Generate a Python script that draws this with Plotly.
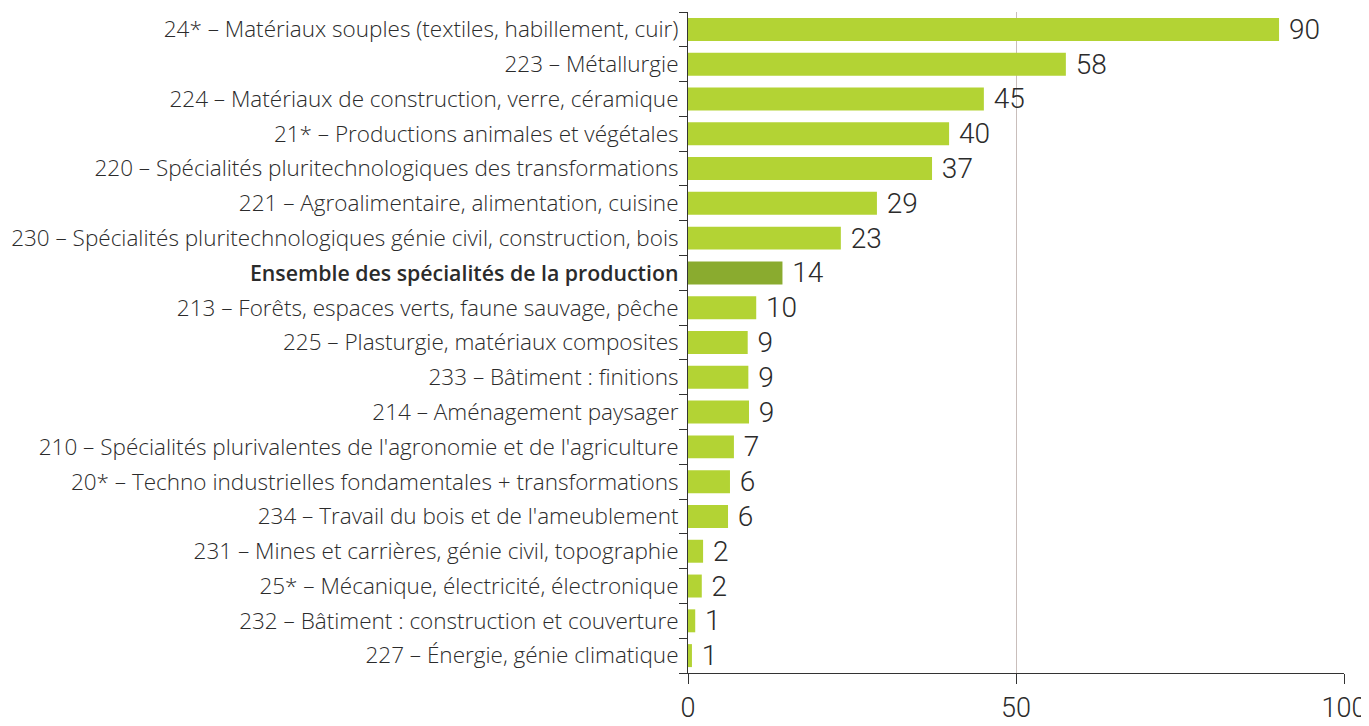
import plotly.graph_objects as go

# Spécialités de la production (ordre d'affichage, du haut vers le bas)
categories = [
    "24* – Matériaux souples (textiles, habillement, cuir)",
    "223 – Métallurgie",
    "224 – Matériaux de construction, verre, céramique",
    "21* – Productions animales et végétales",
    "220 – Spécialités pluritechnologiques des transformations",
    "221 – Agroalimentaire, alimentation, cuisine",
    "230 – Spécialités pluritechnologiques génie civil, construction, bois",
    "Ensemble des spécialités de la production",
    "213 – Forêts, espaces verts, faune sauvage, pêche",
    "225 – Plasturgie, matériaux composites",
    "233 – Bâtiment : finitions",
    "214 – Aménagement paysager",
    "210 – Spécialités plurivalentes de l'agronomie et de l'agriculture",
    "20* – Techno industrielles fondamentales + transformations",
    "234 – Travail du bois et de l'ameublement",
    "231 – Mines et carrières, génie civil, topographie",
    "25* – Mécanique, électricité, électronique",
    "232 – Bâtiment : construction et couverture",
    "227 – Énergie, génie climatique",
]
values = [90.1, 57.6, 45.1, 39.8, 37.2, 28.8, 23.3, 14.4, 10.4, 9.1, 9.2, 9.3,
          7.0, 6.4, 6.1, 2.3, 2.1, 1.1, 0.6]
value_labels = ["90", "58", "45", "40", "37", "29", "23", "14", "10", "9", "9", "9",
                "7", "6", "6", "2", "2", "1", "1"]
x_ticks = [0, 50, 100]
total_label = "Ensemble des spécialités de la production"

colors = ["#8aab2f" if c == total_label else "#b3d334" for c in categories]
tick_text = [
    f'<span style="font-weight:600;font-size:21.3px">{c}</span>' if c == total_label else c
    for c in categories
]

fig = go.Figure(go.Bar(
    y=categories, x=values, orientation="h",
    marker=dict(color=colors, line=dict(width=0)),
    width=0.66,
    text=value_labels, texttemplate="\u00a0%{text}",
    textposition="outside", constraintext="none",
    textfont=dict(size=28, color="#2b2b2b", family="Roboto", weight=300),
    cliponaxis=False,
))

# la page place la figure à 8 px du bord : on réduit la taille d'autant
fig.update_layout(
    width=1361, height=718,
    margin=dict(l=680, r=25, t=4, b=53),
    plot_bgcolor="white", paper_bgcolor="white",
    showlegend=False, bargap=0.34,
    font=dict(family="Open Sans", color="#2b2b2b"),
)
fig.update_yaxes(
    autorange="reversed", type="category", automargin=False,
    tickvals=categories, ticktext=tick_text,
    tickson="boundaries", ticks="outside", ticklen=8, tickcolor="#333",
    showline=True, linecolor="#333", linewidth=1,
    tickfont=dict(size=22.5, color="#2b2b2b", weight=300), ticklabelstandoff=4,
)
fig.update_xaxes(
    range=[0, 100], tickvals=x_ticks, automargin=False,
    ticks="outside", ticklen=10, tickcolor="#333",
    showline=True, linecolor="#333", linewidth=1,
    showgrid=True, gridcolor="#c9bebb", gridwidth=1, zeroline=False,
    tickfont=dict(size=27, color="#2b2b2b", family="Roboto", weight=300),
    ticklabelstandoff=1,
)

fig.write_html("out.html")
